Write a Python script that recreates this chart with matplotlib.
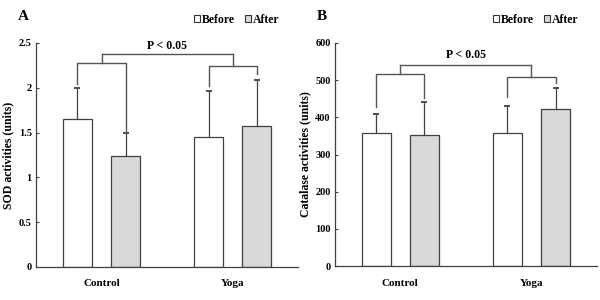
import matplotlib.pyplot as plt
import numpy as np

plt.rcParams['font.family'] = ['Liberation Serif', 'DejaVu Serif']
plt.rcParams['font.weight'] = 'bold'

groups = ['Control', 'Yoga']
series = ['Before', 'After']

# Panel A: SOD activities
sod_mean = {'Before': [1.65, 1.45], 'After': [1.24, 1.57]}
sod_err = {'Before': [0.35, 0.51], 'After': [0.26, 0.52]}

# Panel B: Catalase activities
cat_mean = {'Before': [358, 358], 'After': [352, 422]}
cat_err = {'Before': [50, 72], 'After': [90, 58]}

# bracket levels: (left leg bottom, right leg bottom, group bar) per group
sod_brackets = [(2.04, 1.50, 2.28), (2.02, 2.15, 2.24)]
sod_top = 2.38
cat_brackets = [(428, 452, 516), (455, 492, 508)]
cat_top = 541

edge = '#404040'
line_col = '#555555'
fills = {'Before': 'white', 'After': '#d9d9d9'}


def draw_panel(ax, means, errs, brackets, top, ylim, yticks, ylabel, letter,
               p_y):
    x = np.arange(len(groups))
    width = 0.222
    offs = {'Before': -0.184, 'After': 0.184}
    for s in series:
        xs = x + offs[s]
        ax.bar(xs, means[s], width, color=fills[s], edgecolor=edge,
               linewidth=0.9, label=s, zorder=2)
        tops = np.array(means[s]) + np.array(errs[s])
        # upward-only error bars with a small cap
        ax.vlines(xs, means[s], tops, color=edge, lw=0.9, zorder=3)
        ax.plot(xs, tops, ls='none', marker='_', ms=4, mew=1.3,
                color=edge, zorder=3)

    centers = []
    for i, (lb, rb, lvl) in enumerate(brackets):
        xl = x[i] + offs['Before']
        xr = x[i] + offs['After']
        ax.plot([xl, xl, xr, xr], [lb, lvl, lvl, rb], color=line_col,
                lw=1.0, zorder=4)
        xc = x[i]
        ax.plot([xc, xc], [lvl, top], color=line_col, lw=1.0, zorder=4)
        centers.append(xc)
    ax.plot([centers[0], centers[1]], [top, top], color=line_col, lw=1.0)
    ax.text(np.mean(centers), p_y, 'P < 0.05', ha='center', va='bottom',
            fontsize=8.5, fontweight='bold')

    ax.set_xlim(-0.5, 1.5)
    ax.set_ylim(*ylim)
    ax.set_yticks(yticks)
    ax.set_yticklabels([('%g' % t) for t in yticks], fontsize=7.5,
                       fontweight='bold')
    ax.set_xticks(x)
    ax.set_xticklabels(groups, fontsize=8, fontweight='bold')
    ax.tick_params(axis='x', length=0, pad=9)
    ax.tick_params(axis='y', direction='in', length=2, width=0.8,
                   color=edge, pad=3)
    for sp in ['top', 'right']:
        ax.spines[sp].set_visible(False)
    for sp in ['left', 'bottom']:
        ax.spines[sp].set_color(edge)
        ax.spines[sp].set_linewidth(0.9)
    ax.set_ylabel(ylabel, fontsize=8.5, fontweight='bold', labelpad=3)

    leg = ax.legend(loc='lower right', bbox_to_anchor=(0.97, 1.03),
                    ncol=2, frameon=False, handlelength=0.5,
                    handleheight=0.6, handletextpad=0.15, columnspacing=0.9,
                    prop={'size': 8.5, 'weight': 'bold'})
    for h in leg.legend_handles:
        h.set_edgecolor('#333333')
        h.set_linewidth(0.8)
    ax.text(-0.05, 1.12, letter, transform=ax.transAxes, fontsize=11,
            fontweight='bold', ha='center', va='center')


fig = plt.figure(figsize=(6, 3), dpi=100)
axA = fig.add_axes([0.06, 0.11, 0.437, 0.747])
axB = fig.add_axes([0.558, 0.113, 0.437, 0.744])

draw_panel(axA, sod_mean, sod_err, sod_brackets, sod_top, (0, 2.5),
           [0, 0.5, 1, 1.5, 2, 2.5], 'SOD activities (units)', 'A', 2.4)
draw_panel(axB, cat_mean, cat_err, cat_brackets, cat_top, (0, 600),
           [0, 100, 200, 300, 400, 500, 600], 'Catalase activities (units)',
           'B', 552)

fig.savefig('out.png', dpi=100)
